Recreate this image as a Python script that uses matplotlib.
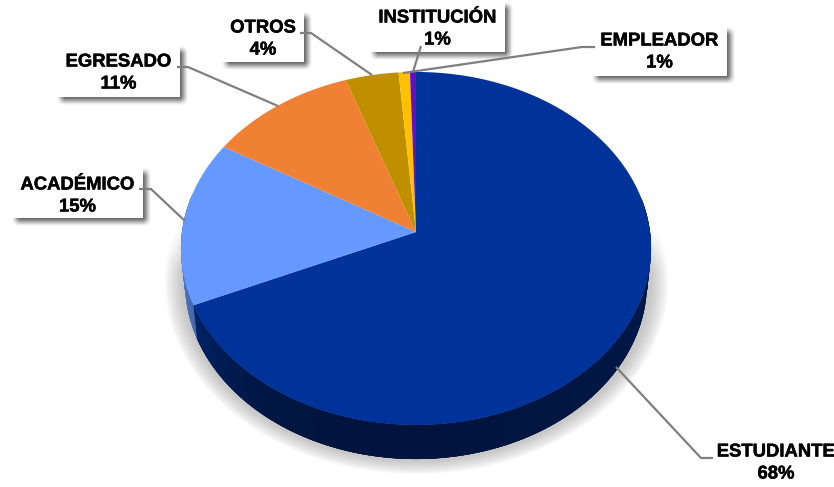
import numpy as np
import matplotlib
matplotlib.use("Agg")
import matplotlib.pyplot as plt
import matplotlib.patheffects as pe
from matplotlib.patches import Rectangle
from matplotlib.colors import to_rgb

plt.rcParams['font.family'] = ['Liberation Sans', 'DejaVu Sans']

categories = ["ESTUDIANTE", "ACADÉMICO", "EGRESADO", "OTROS", "INSTITUCIÓN", "EMPLEADOR"]
values = [68.4, 15.1, 11.2, 4.0, 0.85, 0.45]
pct_labels = ["68%", "15%", "11%", "4%", "1%", "1%"]
colors = ["#003399", "#6699FF", "#F08033", "#BF8F00", "#FFC000", "#6A0DC0"]

W, H = 834, 487
# perspective of the pie disc, in pixels: apex position and projection constants
ax0, ay0 = 416, 232
A, B, P = 175.0, 234.0, 0.0935
wall_drop, wall_shrink = 34, 231 / 235

# label boxes: x0, y0, x1, y1
boxes = [(710, 436, 840, 486), (12, 168, 143, 218), (57, 46, 180, 97),
         (222, 12, 304, 62), (370, 2, 505, 52), (592, 27, 727, 76)]
text_y = [452, 185, 62, 28, 18, 41]
leaders = [[(713, 458), (701, 458), (616, 367)],
           [(139, 189), (151, 189), (185, 221)],
           [(177, 67), (188, 67), (278, 106)],
           [(300, 33), (311, 33), (372, 75)],
           [(421, 46), (413, 72)],
           [(595, 47), (582, 47), (403, 73)]]


def project(theta):
    u, v = np.sin(theta), np.cos(theta)
    w = 1 + P * v
    return ax0 + B * u / w, ay0 - A * v / w


def box_blur(img, n, axis):
    kernel = np.ones(n) / n
    return np.apply_along_axis(lambda r: np.convolve(r, kernel, mode="same"), axis, img)


fig = plt.figure(figsize=(W / 100, H / 100), dpi=100)
ax = fig.add_axes([0, 0, 1, 1])
yy, xx = np.mgrid[0:H, 0:W]

# soft shadow behind the pie
d = np.sqrt(((xx - 416) / 231.0) ** 2 + ((yy - 282) / 176.0) ** 2)
alpha = np.clip((1.09 - d) / 0.075, 0, 1) ** 0.8 * 0.27
alpha *= np.clip((yy - 215) / 55.0, 0, 1)
alpha[yy > 472] = 0
shadow = np.zeros((H, W, 4))
shadow[..., :3] = 0.2
shadow[..., 3] = alpha
ax.imshow(shadow, extent=(0, W, H, 0), aspect="auto", interpolation="bilinear", zorder=0)

# side wall, one small overlapping piece per angle step
edges = np.concatenate([[0], np.cumsum(values)]) / sum(values) * 2 * np.pi
for i, col in enumerate(colors):
    steps = np.linspace(edges[i], edges[i + 1], max(int((edges[i + 1] - edges[i]) * 120), 2))
    for a0, a1 in zip(steps[:-1], steps[1:]):
        if np.cos((a0 + a1) / 2) > 0.2:
            continue
        t = np.sin((a0 + a1) / 2)
        f = 0.40 + 0.38 * max(-t, 0) ** 4 + 0.08 * max(t, 0) ** 2
        shade = tuple(c * f for c in to_rgb(col))
        span = np.linspace(a0, a1 + 0.02, 4)
        tx, ty = project(span)
        bx = ax0 + (tx - ax0) * wall_shrink
        by = ty + wall_drop
        ax.fill(np.r_[tx, bx[::-1]], np.r_[ty, by[::-1]], color=shade, lw=0, zorder=1)

# top face
for i, col in enumerate(colors):
    arc = np.linspace(edges[i], edges[i + 1], max(int((edges[i + 1] - edges[i]) * 120), 4))
    px, py = project(arc)
    ax.fill(np.r_[ax0, px], np.r_[ay0, py], color=col, lw=0, zorder=2)

# blurred shadows of the label boxes
mask = np.zeros((H, W))
for name, (x0, y0, x1, y1) in zip(categories, boxes):
    if name != "ESTUDIANTE":
        mask[y0 + 4:y1 + 4, x0 + 4:x1 + 4] = 1
for axis in (0, 1):
    mask = box_blur(box_blur(mask, 7, axis), 3, axis)
box_shadow = np.zeros((H, W, 4))
box_shadow[..., :3] = 0.2
box_shadow[..., 3] = mask * 0.75
ax.imshow(box_shadow, extent=(0, W, H, 0), aspect="auto", interpolation="bilinear", zorder=3)

# label boxes, leader lines and text
stroke = [pe.withStroke(linewidth=0.35, foreground="black")]
for name, pct, box, ty, line in zip(categories, pct_labels, boxes, text_y, leaders):
    x0, y0, x1, y1 = box
    ax.add_patch(Rectangle((x0, y0), x1 - x0, y1 - y0, fc="white", ec="none", zorder=4))
    lx, ly = zip(*line)
    ax.plot(lx, ly, color="#7F7F7F", lw=1.6, zorder=5, solid_capstyle="butt")
    tx = 776 if name == "ESTUDIANTE" else (x0 + x1) / 2
    ax.text(tx, ty, name, ha="center", va="center", fontsize=13.3, fontweight="bold",
            color="black", zorder=6, path_effects=stroke)
    ax.text(tx, ty + 22, pct, ha="center", va="center", fontsize=13.3, fontweight="bold",
            color="black", zorder=6, path_effects=stroke)

ax.set_xlim(0, W)
ax.set_ylim(H, 0)
ax.axis("off")

fig.savefig("out.png", dpi=100)
